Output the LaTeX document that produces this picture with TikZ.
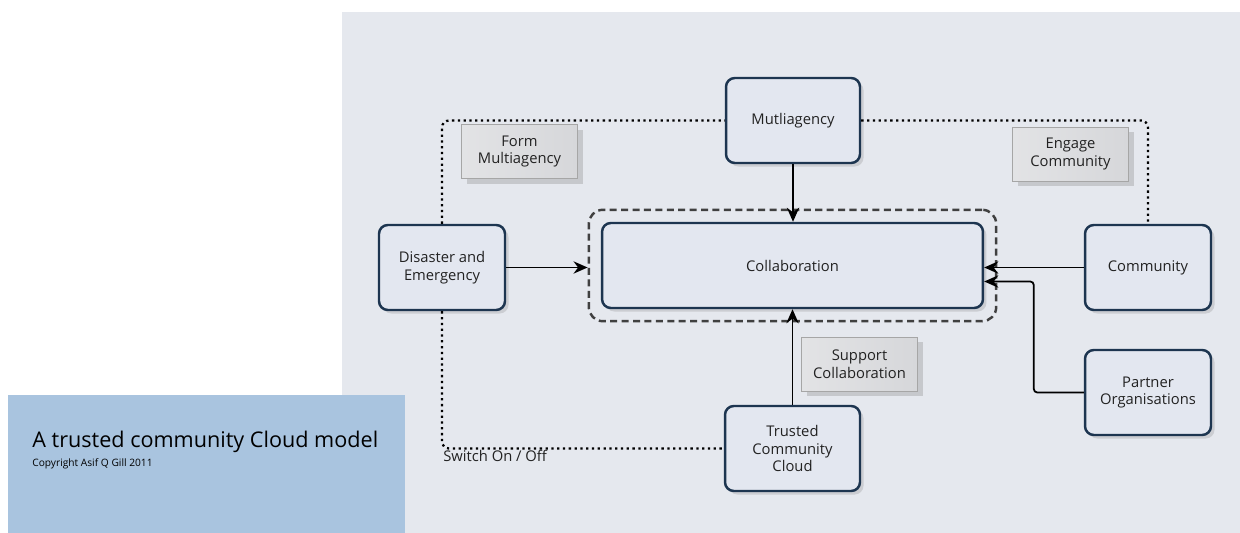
\documentclass[tikz,border=0pt]{standalone}
\usepackage{fontspec}
\setmainfont{Open Sans}
\usepackage{tikz}
\usetikzlibrary{arrows.meta, calc, fit, shadows}

\definecolor{panelbg}{HTML}{E5E8EE}
\definecolor{capblue}{HTML}{A9C4DF}
\definecolor{boxfill}{HTML}{E3E7F0}
\definecolor{boxline}{HTML}{1D3550}
\definecolor{notefill}{HTML}{D6D7DA}
\definecolor{inkgray}{HTML}{222222}

\begin{document}
\begin{tikzpicture}[x=0.02cm, y=-0.02cm, font=\fontsize{8.4}{10.2}\selectfont, text=inkgray,
    entity/.style={draw=boxline, line width=1.4pt, fill=boxfill, rounded corners=5pt,
        minimum width=2.52cm, minimum height=1.7cm, align=center,
        drop shadow={shadow xshift=2pt, shadow yshift=-2pt, opacity=0.25}},
    note/.style={draw=gray!70, line width=0.4pt, left color=notefill!70, right color=notefill, align=center,
        minimum width=2.32cm, minimum height=1.08cm,
        drop shadow={shadow xshift=3pt, shadow yshift=-3pt, opacity=0.3}},
    flow/.style={line width=1pt, -{Stealth[length=8pt, width=7pt]}},
    loop/.style={line width=1.3pt, dotted, rounded corners=4pt}]
    % Frame and background
    \useasboundingbox (0,0) rectangle (1240,533);
    \fill[white] (0,0) rectangle (1240,533);
    \fill[panelbg] (342,12) rectangle (1240,533);
    \fill[capblue] (8,395) rectangle (405,533);

    % Caption
    \node[anchor=base west, inner sep=0pt, font=\fontsize{12.3}{14}\selectfont, text=black] (title) at (32,447) {A trusted community Cloud model};
    \node[anchor=base west, inner sep=0pt, font=\fontsize{5.8}{7}\selectfont, text=black] (credit) at (32,466) {Copyright Asif Q Gill 2011};

    % Boxes
    \node[entity] (dis) at (442,267.5) {Disaster and\\Emergency};
    \node[entity, minimum width=2.68cm] (multi) at (793,120.5) {Mutliagency};
    \node[entity, minimum width=7.62cm] (collab) at (792.5,265.5) {Collaboration};
    \node[draw=black!75, line width=1.4pt, dash pattern=on 4pt off 2.5pt, rounded corners=8pt, fit=(collab), inner sep=0.24cm] (group) {};
    \node[entity] (comm) at (1148,267.5) {Community};
    \node[entity] (partner) at (1148,392.5) {Partner\\Organisations};
    \node[entity, minimum width=2.7cm] (cloud) at (792.5,448.5) {Trusted\\Community\\Cloud};

    % Notes
    \node[note] (formnote) at (519.5,151.5) {Form\\Multiagency};
    \node[note] (engagenote) at (1070.5,154) {Engage\\Community};
    \node[note] (supportnote) at (859.5,364) {Support\\Collaboration};

    % Dotted loop
    \draw[loop] (dis.north) |- (multi.west);
    \draw[loop] (multi.east) -| (comm.north);
    \draw[loop] (dis.south) |- (cloud.west);
    \node[anchor=north west, inner sep=0pt] (switch) at (443,450) {Switch On / Off};

    % Arrows into collaboration
    \draw[flow] (dis.east) -- (dis.east -| group.west);
    \draw[flow] (multi.south) -- (multi.south |- collab.north);
    \draw[flow] (cloud.north) -- (cloud.north |- collab.south);
    \draw[flow] (comm.west) -- (comm.west -| collab.east);
    \draw[flow, rounded corners=2pt] (partner.west) -- ++(-50,0) |- ($(collab.east)+(0,16)$);
\end{tikzpicture}
\end{document}
